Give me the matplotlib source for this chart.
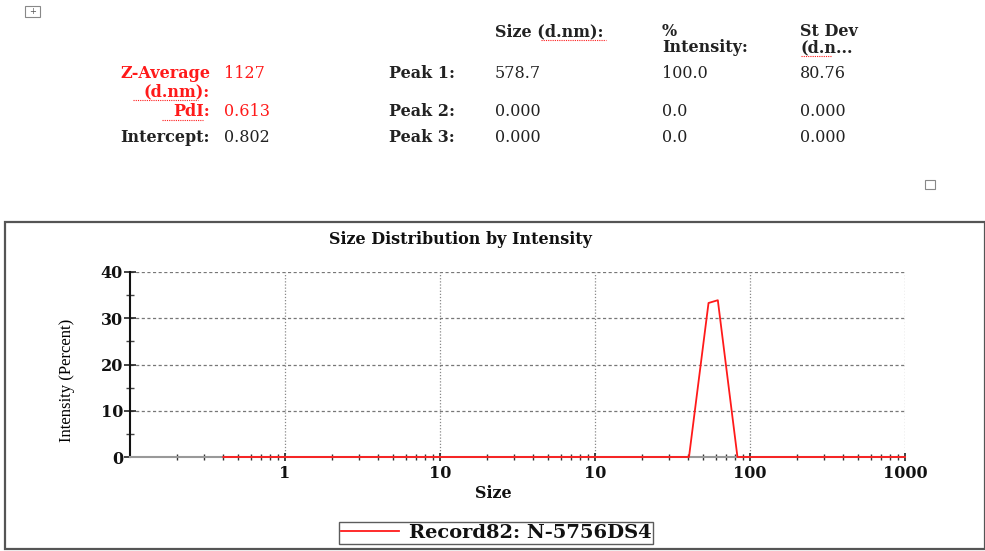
import matplotlib
matplotlib.use("Agg")
import matplotlib.pyplot as plt
from matplotlib.patches import Rectangle
from matplotlib.lines import Line2D
from matplotlib.ticker import FixedLocator, LogLocator, NullFormatter, MultipleLocator

# ---- data ----
sizes = [0.4, 404, 540, 620, 830, 10000]
intensity = [0.0, 0.0, 33.3, 33.9, 0.0, 0.0]
x_tick_values = [1, 10, 100, 1000, 10000]
x_tick_labels = ["1", "10", "10", "100", "1000"]
y_tick_values = [0, 10, 20, 30, 40]
series_label = "Record82: N-5756DS4"

row_labels = ["Peak 1:", "Peak 2:", "Peak 3:"]
peak_size = ["578.7", "0.000", "0.000"]
peak_int = ["100.0", "0.0", "0.0"]
peak_sd = ["80.76", "0.000", "0.000"]
z_average = "1127"
pdi = "0.613"
intercept = "0.802"

W, H = 985, 551
fig = plt.figure(figsize=(W / 100, H / 100), dpi=100)
fig.patch.set_facecolor("white")


def P(x, y):
    return (x / W, 1 - y / H)


SERIF = ["DejaVu Serif"]
red = "#ff1a1a"

def txt(x, y, s, color="#222222", bold=False, ha="left", size=11.5, va="center"):
    fig.text(*P(x, y), s, color=color, fontweight="bold" if bold else "normal",
             ha=ha, va=va, fontsize=size, family=SERIF)

# ---- table ----
txt(495, 32, "Size (d.nm):", bold=True)
txt(662, 32, "%", bold=True)
txt(662, 48, "Intensity:", bold=True)
txt(800, 32, "St Dev", bold=True)
txt(800, 48, "(d.n...", bold=True)

txt(210, 73, "Z-Average", color=red, bold=True, ha="right")
txt(210, 92, "(d.nm):", color=red, bold=True, ha="right")
txt(224, 73, z_average, color=red)
txt(210, 112, "PdI:", color=red, bold=True, ha="right")
txt(224, 112, pdi, color=red)
txt(210, 137, "Intercept:", bold=True, ha="right")
txt(224, 137, intercept)

row_y = [73, 112, 137]
for ry, lab, a, b, c in zip(row_y, row_labels, peak_size, peak_int, peak_sd):
    txt(455, ry, lab, bold=True, ha="right")
    txt(495, ry, a)
    txt(662, ry, b)
    txt(800, ry, c)

# spelling-check underlines
for (x0, x1, y) in [(541, 606, 40), (801, 832, 56), (133, 198, 100), (162, 203, 120)]:
    fig.add_artist(Line2D([x0 / W, x1 / W], [1 - y / H, 1 - y / H], color=red,
                          lw=0.8, ls=(0, (1, 1))))

# small icons
fig.add_artist(Rectangle(P(25, 17), 15 / W, 11 / H, fill=False, edgecolor="#888888", lw=0.8))
fig.text(*P(32.5, 11.5), "+", fontsize=6, ha="center", va="center", color="#555555")
fig.add_artist(Rectangle(P(925, 189), 10 / W, 9 / H, fill=False, edgecolor="#888888", lw=0.8))

# outer frame of chart
fig.add_artist(Rectangle(P(5, 549), (W - 5) / W, 327 / H, fill=False,
                         edgecolor="#555555", lw=1.6))

# ---- chart ----
left, right, top, bottom = 130, 905, 272, 457
ax = fig.add_axes([left / W, 1 - bottom / H, (right - left) / W, (bottom - top) / H])
ax.set_xscale("log")
ax.set_xlim(0.1, 10000)
ax.set_ylim(0, 40)

ax.plot(sizes, intensity, color=red, lw=1.3, zorder=5, label=series_label, clip_on=False)

ax.xaxis.set_major_locator(FixedLocator(x_tick_values))
ax.set_xticklabels(x_tick_labels)
ax.xaxis.set_minor_locator(LogLocator(base=10, subs=range(2, 10)))
ax.xaxis.set_minor_formatter(NullFormatter())
ax.yaxis.set_major_locator(FixedLocator(y_tick_values))
ax.yaxis.set_minor_locator(MultipleLocator(5))

for lab in ax.get_xticklabels() + ax.get_yticklabels():
    lab.set_family(SERIF)
    lab.set_fontweight("bold")
    lab.set_fontsize(11.5)
    lab.set_color("#111111")

ax.tick_params(axis="x", which="major", direction="inout", length=6, width=1.2, color="#222222", pad=3)
ax.tick_params(axis="x", which="minor", direction="inout", length=4, width=1.0, color="#333333")
ax.tick_params(axis="y", which="major", direction="inout", length=8, width=1.2, color="#222222", pad=1)
ax.tick_params(axis="y", which="minor", direction="inout", length=6, width=1.0, color="#444444")

ax.spines["top"].set_visible(False)
ax.spines["right"].set_visible(False)
ax.spines["left"].set_color("#111111")
ax.spines["left"].set_linewidth(1.5)
ax.spines["bottom"].set_color("#999999")
ax.spines["bottom"].set_linewidth(1.5)

for yv in y_tick_values[1:]:
    ax.axhline(yv, color="#777777", lw=0.9, ls=(0, (2.5, 2)), zorder=1)
for xv in x_tick_values:
    ax.axvline(xv, color="#888888", lw=0.9, ls=(0, (1, 1.5)), zorder=1)

ax.set_title("Size Distribution by Intensity", family=SERIF, fontweight="bold",
             fontsize=11.5, pad=20, x=(460 - left) / (right - left), color="#111111")
ax.set_ylabel("Intensity (Percent)", family=["Liberation Serif"], fontsize=12,
              color="#000000")
ax.yaxis.set_label_coords((75 - left) / (right - left), (bottom - 380) / (bottom - top))
ax.set_xlabel("Size", family=SERIF, fontweight="bold", fontsize=11.5,
              color="#111111", labelpad=2, x=(493 - left) / (right - left))

leg = fig.legend(loc="center", bbox_to_anchor=P(496, 533), frameon=True,
                 fancybox=False, edgecolor="#333333", handlelength=3.0,
                 prop={"family": SERIF, "weight": "bold", "size": 14},
                 borderpad=0.1, handletextpad=0.5, borderaxespad=0)
leg.get_frame().set_linewidth(1.0)
for t in leg.get_texts():
    t.set_color("#111111")

fig.savefig("out.png", dpi=100, facecolor="white")
